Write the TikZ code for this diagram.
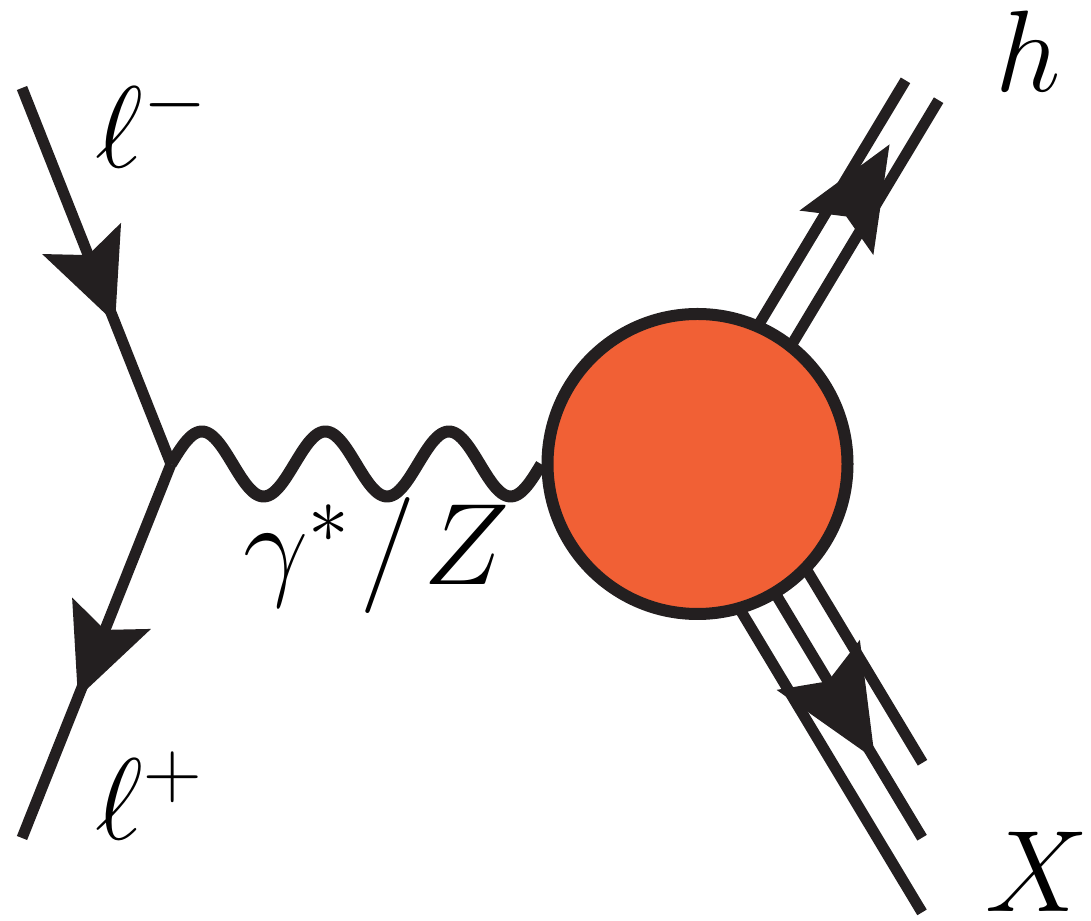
\documentclass[tikz,border=0pt]{standalone}
\usepackage{fix-cm}
\usepackage{amsmath,amssymb}
\usepackage{xcolor}
\usepackage{tikz}
\usetikzlibrary{arrows.meta,positioning,calc,decorations.markings}

\definecolor{inkblack}{RGB}{35,31,32}
\definecolor{blobred}{RGB}{241,96,53}

\tikzset{
  leg/.style={line width=1.1mm, draw=inkblack},
  fermion/.style={leg, inkblack,
    decoration={markings, mark=at position #1 with {\arrow{Stealth[length=9mm,width=8.3mm,inset=1.7mm]}}},
    postaction={decorate}},
  harrow/.style={inkblack,
    decoration={markings, mark=at position #1 with {\arrow{Stealth[length=10.3mm,width=8.6mm,inset=1.9mm]}}},
    postaction={decorate}},
  xarrow/.style={inkblack,
    decoration={markings, mark=at position #1 with {\arrow{Stealth[length=11mm,width=9.7mm,inset=1.9mm]}}},
    postaction={decorate}},
  photon/.style={line width=1.2mm, draw=inkblack, line join=round},
  lbl/.style={inner sep=0pt, text=black}
}

\begin{document}
\begin{tikzpicture}[font=\fontsize{33}{40}\selectfont]
\useasboundingbox (0,0) rectangle (10.91,9.21);
\coordinate (v) at (1.71,4.57);
\coordinate (lin) at (0.22,8.33);
\coordinate (lout) at (0.22,0.83);
\coordinate (c) at (6.975,4.57);
% outgoing legs, under the blob
\coordinate (hend) at ($(c)+(59:4.36)$);
\coordinate (xend) at ($(c)+(-59:4.36)$);
\draw[leg] ($(c)+(149:0.193)$) -- ++(59:4.36);
\draw[leg] ($(c)+(-31:0.193)$) -- ++(59:4.36);
\draw[leg] ($(c)+(-149:0.385)$) -- ++(-59:5.00);
\draw[leg] (c) -- (xend);
\draw[leg] ($(c)+(31:0.39)$) -- ++(-59:3.72);
\path[harrow=0.855] (c) -- (hend);
\path[xarrow=0.79] (c) -- (xend);
\node[circle, draw=inkblack, fill=blobred, line width=1.2mm, minimum size=3cm, inner sep=0pt] (blob) at (c) {};
% three full wiggles from the vertex to the blob
\draw[photon, shift={(v)}] let \p1=($(blob.west)-(v)$) in
  plot[variable=\t, domain=0:1, samples=160, smooth] ({\t*\x1}, {0.325*sin(1080*\t)*1cm});
\draw[fermion=0.625] (lin) -- (v);
\draw[fermion=0.625] (v) -- (lout);
\node[lbl, anchor=base west] (lminus) at (0.95,7.53) {$\ell^-$};
\node[lbl, anchor=base west] (lplus) at (0.95,0.81) {$\ell^+$};
\node[lbl, anchor=base west] (gz) at (2.43,3.36) {$\gamma^*\mkern1.2mu/\mkern1.2mu Z$};
\node[lbl, anchor=base west] (hlab) at (9.95,8.29) {$h$};
\node[lbl, anchor=base west] (xlab) at (9.85,0.09) {$X$};
\end{tikzpicture}
\end{document}
